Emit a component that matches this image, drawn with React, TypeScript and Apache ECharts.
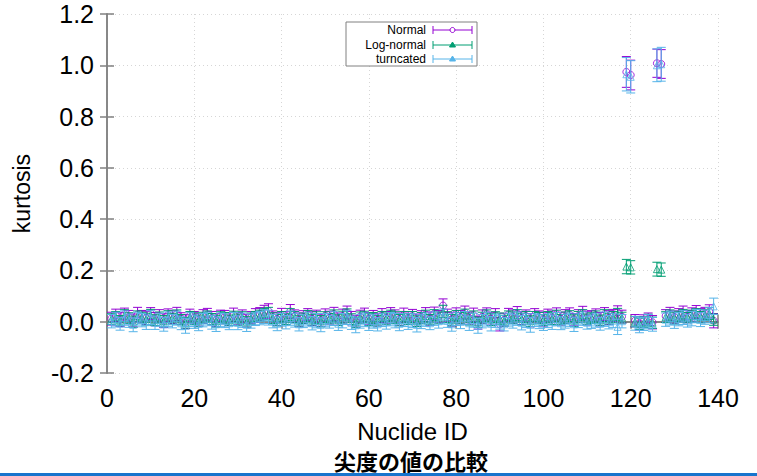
import React, { useEffect, useRef } from "react";
import * as echarts from "echarts";

// Nuclide IDs run 1..139 (index + 1)
const normalValues = [
  0.012, 0.025, 0.008, 0.030, 0.018, 0.005, 0.028, 0.020, 0.015, 0.032,
  0.010, 0.022, 0.004, 0.026, 0.018, 0.030, 0.012, 0.000, 0.024, 0.016,
  0.008, 0.020, 0.028, 0.014, 0.006, 0.022, 0.018, 0.010, 0.026, 0.012,
  0.020, 0.004, 0.016, 0.024, 0.030, 0.038, 0.042, 0.018, 0.010, 0.026,
  0.014, 0.040, 0.022, 0.008, 0.018, 0.028, 0.012, 0.020, 0.006, 0.024,
  0.016, 0.030, 0.010, 0.022, 0.036, 0.014, 0.002, 0.020, 0.026, 0.012,
  0.018, 0.008, 0.024, 0.016, 0.030, 0.020, 0.010, 0.026, 0.014, 0.022,
  0.006, 0.018, 0.028, 0.012, 0.032, 0.020, 0.063, 0.024, 0.010, 0.030,
  0.018, 0.036, 0.014, 0.026, -0.004, 0.020, 0.030, 0.012, 0.024, -0.010,
  0.008, 0.028, 0.020, 0.032, 0.014, 0.022, 0.006, 0.026, 0.018, 0.010,
  0.024, 0.016, 0.030, 0.012, 0.020, 0.028, 0.008, 0.022, 0.034, 0.014,
  0.018, 0.026, 0.010, 0.030, 0.016, 0.024, 0.036, 0.020, 0.974, 0.962,
  0.004, -0.006, 0.002, 0.010, -0.002, 1.008, 1.005, 0.022, 0.030, 0.018,
  0.026, 0.034, 0.020, 0.028, 0.038, 0.024, 0.032, 0.040, 0.004,
];
const normalErrors = [
  0.025, 0.024, 0.027, 0.023, 0.026, 0.025, 0.028, 0.024, 0.026, 0.023,
  0.026, 0.025, 0.027, 0.024, 0.025, 0.026, 0.023, 0.027, 0.025, 0.024,
  0.025, 0.027, 0.024, 0.026, 0.025, 0.023, 0.026, 0.025, 0.027, 0.024,
  0.026, 0.025, 0.024, 0.027, 0.025, 0.026, 0.028, 0.024, 0.025, 0.026,
  0.025, 0.027, 0.024, 0.026, 0.025, 0.023, 0.027, 0.025, 0.024, 0.026,
  0.025, 0.026, 0.024, 0.027, 0.025, 0.026, 0.023, 0.025, 0.027, 0.024,
  0.026, 0.025, 0.027, 0.024, 0.025, 0.026, 0.024, 0.027, 0.025, 0.026,
  0.024, 0.025, 0.027, 0.026, 0.025, 0.024, 0.026, 0.025, 0.027, 0.024,
  0.026, 0.025, 0.024, 0.027, 0.025, 0.026, 0.024, 0.025, 0.027, 0.026,
  0.025, 0.024, 0.026, 0.027, 0.025, 0.024, 0.026, 0.025, 0.024, 0.027,
  0.025, 0.026, 0.024, 0.025, 0.027, 0.026, 0.024, 0.025, 0.026, 0.027,
  0.025, 0.024, 0.026, 0.025, 0.027, 0.024, 0.026, 0.025, 0.060, 0.058,
  0.024, 0.026, 0.025, 0.024, 0.026, 0.055, 0.056, 0.025, 0.026, 0.024,
  0.025, 0.027, 0.024, 0.026, 0.025, 0.027, 0.024, 0.026, 0.028,
];
const logNormalValues = [
  0.010, 0.018, 0.004, 0.024, 0.014, 0.000, 0.022, 0.016, 0.010, 0.026,
  0.006, 0.018, 0.002, 0.020, 0.012, 0.024, 0.008, -0.004, 0.018, 0.012,
  0.004, 0.016, 0.022, 0.010, 0.002, 0.018, 0.014, 0.006, 0.020, 0.008,
  0.016, 0.000, 0.012, 0.020, 0.024, 0.030, 0.032, 0.014, 0.006, 0.020,
  0.010, 0.028, 0.018, 0.004, 0.014, 0.022, 0.008, 0.016, 0.002, 0.018,
  0.012, 0.024, 0.006, 0.018, 0.028, 0.010, -0.002, 0.016, 0.020, 0.008,
  0.014, 0.004, 0.020, 0.012, 0.024, 0.016, 0.006, 0.020, 0.010, 0.018,
  0.002, 0.014, 0.022, 0.008, 0.026, 0.016, 0.040, 0.018, 0.006, 0.024,
  0.014, 0.028, 0.010, 0.020, -0.002, 0.016, 0.024, 0.008, 0.018, 0.012,
  0.004, 0.022, 0.016, 0.026, 0.010, 0.018, 0.002, 0.020, 0.014, 0.006,
  0.018, 0.012, 0.024, 0.008, 0.016, 0.022, 0.004, 0.018, 0.026, 0.010,
  0.014, 0.020, 0.006, 0.024, 0.012, 0.018, 0.028, 0.016, 0.215, 0.212,
  0.000, -0.008, -0.002, 0.006, -0.004, 0.205, 0.203, 0.018, 0.024, 0.014,
  0.020, 0.026, 0.016, 0.022, 0.030, 0.018, 0.026, 0.032, 0.008,
];
const logNormalErrors = [
  0.021, 0.022, 0.020, 0.023, 0.021, 0.022, 0.020, 0.021, 0.023, 0.022,
  0.021, 0.020, 0.022, 0.023, 0.021, 0.022, 0.020, 0.021, 0.022, 0.023,
  0.022, 0.021, 0.020, 0.022, 0.023, 0.021, 0.022, 0.020, 0.021, 0.022,
  0.023, 0.021, 0.022, 0.020, 0.021, 0.022, 0.024, 0.021, 0.022, 0.020,
  0.021, 0.023, 0.022, 0.021, 0.020, 0.022, 0.021, 0.023, 0.022, 0.021,
  0.020, 0.022, 0.021, 0.023, 0.022, 0.021, 0.020, 0.022, 0.021, 0.023,
  0.022, 0.021, 0.020, 0.022, 0.021, 0.023, 0.022, 0.020, 0.021, 0.022,
  0.021, 0.022, 0.023, 0.020, 0.021, 0.022, 0.024, 0.021, 0.022, 0.020,
  0.022, 0.021, 0.023, 0.022, 0.020, 0.021, 0.022, 0.023, 0.021, 0.022,
  0.021, 0.020, 0.022, 0.021, 0.023, 0.022, 0.021, 0.020, 0.022, 0.021,
  0.022, 0.023, 0.021, 0.020, 0.022, 0.021, 0.023, 0.022, 0.021, 0.020,
  0.021, 0.022, 0.020, 0.023, 0.021, 0.022, 0.024, 0.021, 0.028, 0.026,
  0.020, 0.022, 0.021, 0.023, 0.022, 0.027, 0.026, 0.021, 0.022, 0.023,
  0.021, 0.022, 0.020, 0.023, 0.021, 0.022, 0.021, 0.023, 0.022,
];
const truncatedValues = [
  0.002, 0.010, -0.008, 0.014, 0.004, -0.012, 0.012, 0.006, -0.002, 0.016,
  -0.004, 0.008, -0.010, 0.010, 0.002, 0.014, -0.006, -0.016, 0.008, 0.000,
  -0.008, 0.006, 0.012, -0.002, -0.010, 0.008, 0.004, -0.006, 0.010, -0.004,
  0.006, -0.012, 0.002, 0.010, 0.014, 0.020, 0.016, 0.002, -0.008, 0.008,
  -0.002, 0.014, 0.006, -0.010, 0.002, 0.010, -0.006, 0.004, -0.012, 0.006,
  0.000, 0.012, -0.008, 0.004, 0.016, -0.004, -0.014, 0.002, 0.008, -0.006,
  0.002, -0.010, 0.006, -0.002, 0.010, 0.004, -0.008, 0.006, -0.004, 0.004,
  -0.012, 0.000, 0.008, -0.006, 0.012, 0.002, 0.020, 0.004, -0.010, 0.010,
  0.000, 0.014, -0.006, 0.006, -0.016, 0.002, 0.010, -0.008, 0.004, -0.002,
  -0.010, 0.008, 0.002, 0.012, -0.004, 0.004, -0.012, 0.006, 0.000, -0.008,
  0.004, -0.002, 0.010, -0.006, 0.002, 0.008, -0.010, 0.004, 0.012, -0.004,
  0.000, 0.006, -0.008, 0.010, -0.002, 0.004, -0.020, 0.002, 0.965, 0.955,
  -0.006, -0.014, -0.008, 0.000, -0.010, 1.000, 1.004, 0.008, 0.014, 0.002,
  0.010, 0.016, 0.004, 0.012, 0.022, 0.008, 0.018, 0.026, 0.060,
];
const truncatedErrors = [
  0.026, 0.027, 0.025, 0.028, 0.026, 0.027, 0.025, 0.026, 0.028, 0.027,
  0.026, 0.025, 0.027, 0.028, 0.026, 0.027, 0.025, 0.029, 0.027, 0.026,
  0.027, 0.026, 0.025, 0.027, 0.028, 0.026, 0.027, 0.025, 0.026, 0.027,
  0.028, 0.026, 0.027, 0.025, 0.026, 0.027, 0.029, 0.026, 0.027, 0.025,
  0.026, 0.028, 0.027, 0.026, 0.025, 0.027, 0.026, 0.028, 0.027, 0.026,
  0.025, 0.027, 0.026, 0.028, 0.027, 0.026, 0.029, 0.027, 0.026, 0.028,
  0.027, 0.026, 0.025, 0.027, 0.026, 0.028, 0.027, 0.025, 0.026, 0.027,
  0.028, 0.027, 0.026, 0.025, 0.026, 0.027, 0.029, 0.026, 0.027, 0.025,
  0.027, 0.026, 0.028, 0.027, 0.029, 0.026, 0.027, 0.028, 0.026, 0.027,
  0.026, 0.025, 0.027, 0.026, 0.028, 0.027, 0.029, 0.025, 0.027, 0.026,
  0.027, 0.028, 0.026, 0.025, 0.027, 0.026, 0.028, 0.027, 0.026, 0.025,
  0.026, 0.027, 0.025, 0.028, 0.026, 0.027, 0.030, 0.026, 0.065, 0.063,
  0.027, 0.029, 0.026, 0.028, 0.027, 0.064, 0.066, 0.026, 0.027, 0.028,
  0.026, 0.027, 0.025, 0.028, 0.026, 0.027, 0.028, 0.030, 0.032,
];

const seriesNames = ["Normal", "Log-normal", "turncated"];
const seriesColors = ["#9400d3", "#009e73", "#56b4e9"];
const seriesSymbols = ["circle", "triangle", "triangle"];
const xTicks = [0, 140, 20];
const yTicks = [-0.2, 1.2, 0.2];
const xName = "Nuclide ID";
const yName = "kurtosis";
const chartTitle = "尖度の値の比較";

const FONT = "'Liberation Sans', Arial, sans-serif";

function toData(vals: number[], errs: number[]) {
  return vals.map((v, i) => [i + 1, v, errs[i]]);
}

function errRender(color: string) {
  return (params: any, api: any) => {
    const x = api.value(0);
    const y = api.value(1);
    const e = api.value(2);
    const top = api.coord([x, y + e]);
    const bot = api.coord([x, y - e]);
    const hw = 4.5;
    const style = { stroke: color, lineWidth: 1, fill: "none" };
    return {
      type: "group",
      children: [
        { type: "line", shape: { x1: top[0], y1: top[1], x2: bot[0], y2: bot[1] }, style },
        { type: "line", shape: { x1: top[0] - hw, y1: top[1], x2: top[0] + hw, y2: top[1] }, style },
        { type: "line", shape: { x1: bot[0] - hw, y1: bot[1], x2: bot[0] + hw, y2: bot[1] }, style },
      ],
    };
  };
}

export default function App() {
  const ref = useRef<HTMLDivElement>(null);
  useEffect(() => {
    if (!ref.current) return;
    const chart = echarts.init(ref.current, undefined, { renderer: "svg" });
    const datasets = [
      toData(normalValues, normalErrors),
      toData(logNormalValues, logNormalErrors),
      toData(truncatedValues, truncatedErrors),
    ];
    const series: any[] = [];
    datasets.forEach((d, k) => {
      series.push({
        type: "custom",
        name: seriesNames[k],
        renderItem: errRender(seriesColors[k]),
        data: d,
        encode: { x: 0, y: 1 },
        clip: true,
        z: 2 + k * 2,
      });
      series.push({
        type: "scatter",
        name: seriesNames[k],
        data: d.map((p) => [p[0], p[1]]),
        symbol: seriesSymbols[k],
        symbolSize: 7,
        itemStyle: { color: "rgba(0,0,0,0)", borderColor: seriesColors[k], borderWidth: 1 },
        z: 3 + k * 2,
      });
    });

    const axisLine = { show: true, lineStyle: { color: "#808080", width: 1.5 } };
    const legendX = 346;
    const legendY = 22;
    const legendRows = [30, 45, 59];
    const legendGraphics: any[] = [
      {
        type: "rect",
        shape: { x: legendX, y: legendY, width: 131, height: 44 },
        style: { fill: "#fff", stroke: "#808080", lineWidth: 1 },
        z: 100,
      },
    ];
    seriesNames.forEach((n, k) => {
      const yy = legendRows[k];
      const c = seriesColors[k];
      legendGraphics.push({
        type: "text",
        x: 426,
        y: yy,
        style: { text: n, fill: "#000", font: `12px ${FONT}`, textAlign: "right", textVerticalAlign: "middle" },
        z: 101,
      });
      legendGraphics.push(
        { type: "line", shape: { x1: 433, y1: yy, x2: 472, y2: yy }, style: { stroke: c, lineWidth: 1 }, z: 101 },
        { type: "line", shape: { x1: 433, y1: yy - 4, x2: 433, y2: yy + 4 }, style: { stroke: c, lineWidth: 1 }, z: 101 },
        { type: "line", shape: { x1: 472, y1: yy - 4, x2: 472, y2: yy + 4 }, style: { stroke: c, lineWidth: 1 }, z: 101 }
      );
      if (k === 0) {
        legendGraphics.push({ type: "circle", shape: { cx: 452.5, cy: yy, r: 2.5 }, style: { fill: "#fff", stroke: c, lineWidth: 1 }, z: 102 });
      } else {
        legendGraphics.push({
          type: "polygon",
          shape: { points: [[452.5, yy - 3], [455.5, yy + 2], [449.5, yy + 2]] },
          style: { fill: c, stroke: c, lineWidth: 1 },
          z: 102,
        });
      }
    });

    chart.setOption({
      animation: false,
      backgroundColor: "#fff",
      textStyle: { fontFamily: FONT },
      grid: { left: 107, right: 39, top: 14, bottom: 103, containLabel: false },
      xAxis: [
        {
          type: "value",
          min: xTicks[0],
          max: xTicks[1],
          interval: xTicks[2],
          position: "bottom",
          name: xName,
          nameLocation: "middle",
          nameGap: 46,
          nameTextStyle: { fontSize: 24, color: "#000", fontFamily: FONT },
          axisLine,
          axisTick: { show: true, inside: true, length: 7, lineStyle: { color: "#808080", width: 1.5 } },
          axisLabel: { fontSize: 25, color: "#000", margin: 12, fontFamily: FONT },
          splitLine: { show: true, lineStyle: { color: "#d6d6d6", type: [1, 3], width: 1 } },
        },
        {
          type: "value",
          min: xTicks[0],
          max: xTicks[1],
          interval: xTicks[2],
          position: "top",
          axisLine,
          axisTick: { show: true, inside: true, length: 7, lineStyle: { color: "#808080", width: 1.5 } },
          axisLabel: { show: false },
          splitLine: { show: false },
        },
      ],
      yAxis: [
        {
          type: "value",
          min: yTicks[0],
          max: yTicks[1],
          interval: yTicks[2],
          position: "left",
          name: yName,
          nameLocation: "middle",
          nameRotate: 90,
          nameGap: 74,
          nameTextStyle: { fontSize: 23, color: "#000", fontFamily: FONT },
          axisLine,
          axisTick: { show: true, inside: true, length: 7, lineStyle: { color: "#808080", width: 1.5 } },
          axisLabel: {
            fontSize: 25,
            color: "#000",
            margin: 13,
            fontFamily: FONT,
            formatter: (v: number) => v.toFixed(1),
          },
          splitLine: { show: true, lineStyle: { color: "#d6d6d6", type: [1, 3], width: 1 } },
        },
        {
          type: "value",
          min: yTicks[0],
          max: yTicks[1],
          interval: yTicks[2],
          position: "right",
          axisLine,
          axisTick: { show: true, inside: true, length: 7, lineStyle: { color: "#808080", width: 1.5 } },
          axisLabel: { show: false },
          splitLine: { show: false },
        },
      ],
      graphic: [
        ...legendGraphics,
        {
          type: "text",
          x: 411,
          y: 460,
          style: {
            text: chartTitle,
            fill: "#000",
            font: `bold 22px 'Noto Sans CJK JP', sans-serif`,
            textAlign: "center",
            textVerticalAlign: "middle",
          },
          z: 100,
        },
        {
          type: "rect",
          shape: { x: 0, y: 473, width: 757, height: 3 },
          style: { fill: "#1874cd" },
          z: 100,
        },
      ],
      series,
    });
    return () => chart.dispose();
  }, []);
  return (
    <div
      ref={ref}
      style={{ position: "absolute", left: 0, top: 0, width: 757, height: 476, background: "#fff" }}
    />
  );
}
